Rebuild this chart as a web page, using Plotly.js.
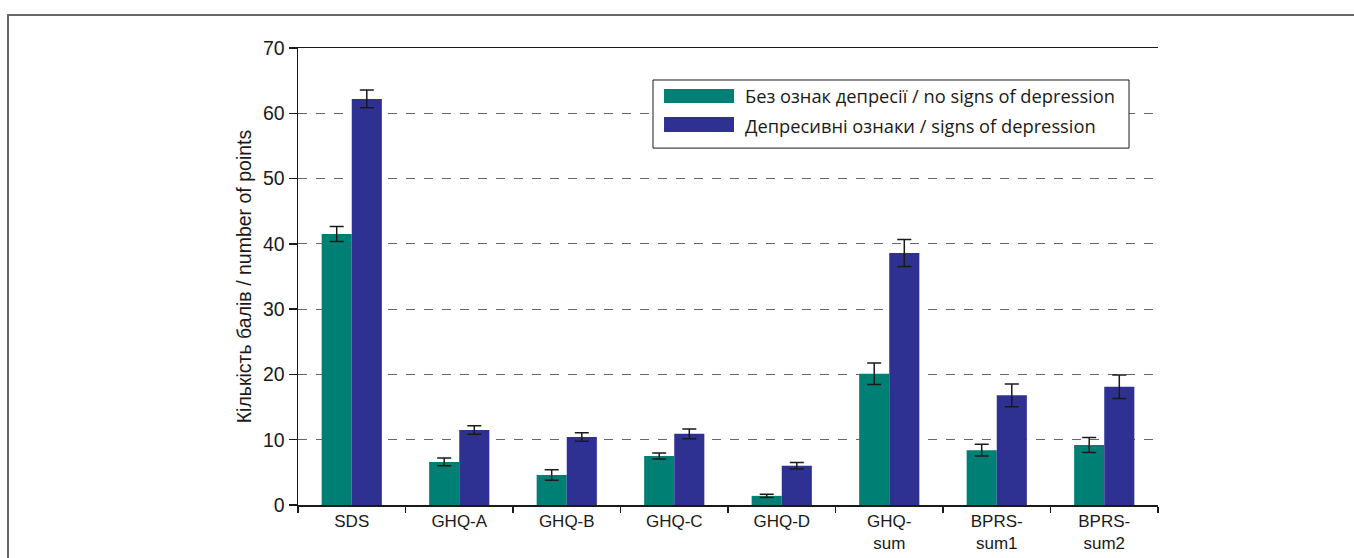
<!DOCTYPE html>
<html>
<head>
<meta charset="utf-8">
<script src="https://cdn.plot.ly/plotly-3.0.1.min.js"></script>
<style>
  html, body { margin: 0; padding: 0; background: #fff; }
  #frame { position: absolute; left: 7px; top: 14px; width: 1400px; height: 600px;
           border-top: 2px solid #666; border-left: 2px solid #666; box-sizing: border-box; }
  #chart { position: absolute; left: 0; top: 0; width: 1354px; height: 558px; }
</style>
</head>
<body>
<div id="frame"></div>
<div id="chart"></div>
<script>
const categories = ["SDS", "GHQ-A", "GHQ-B", "GHQ-C", "GHQ-D", "GHQ-<br>sum", "BPRS-<br>sum1", "BPRS-<br>sum2"];
const seriesNames = ["Без ознак депресії / no signs of depression", "Депресивні ознаки / signs of depression"];
const noDepression = [41.5, 6.6, 4.6, 7.5, 1.4, 20.1, 8.4, 9.2];
const noDepressionErr = [1.15, 0.6, 0.8, 0.45, 0.25, 1.65, 0.9, 1.15];
const depression = [62.2, 11.5, 10.4, 10.9, 6.0, 38.6, 16.8, 18.1];
const depressionErr = [1.35, 0.65, 0.65, 0.75, 0.5, 2.05, 1.75, 1.8];
const colors = ["#008075", "#2E3192"];

const errStyle = (arr) => ({type: "data", array: arr, visible: true, color: "#1a1a1a", thickness: 1.5, width: 7});

const traces = [
  {type: "bar", name: seriesNames[0], x: categories, y: noDepression, marker: {color: colors[0]}, error_y: errStyle(noDepressionErr), showlegend: false},
  {type: "bar", name: seriesNames[1], x: categories, y: depression, marker: {color: colors[1]}, error_y: errStyle(depressionErr), showlegend: false}
];

const fam = "Liberation Sans, Arial, sans-serif";

const layout = {
  width: 1354, height: 558,
  margin: {l: 298, r: 196, t: 48, b: 53},
  paper_bgcolor: "rgba(0,0,0,0)", plot_bgcolor: "rgba(0,0,0,0)",
  barmode: "group", bargap: 0.44, bargroupgap: 0,
  xaxis: {
    type: "category", showline: true, linecolor: "#1a1a1a", linewidth: 1.5, mirror: true,
    ticks: "outside", tickson: "boundaries", ticklen: 6, tickcolor: "#1a1a1a", tickwidth: 1.5,
    tickfont: {family: fam, size: 17, color: "#1a1a1a"}, showgrid: false, zeroline: false
  },
  yaxis: {
    range: [0, 70], dtick: 10, showline: true, linecolor: "#1a1a1a", linewidth: 1.5,
    ticks: "outside", ticklen: 8, tickcolor: "#1a1a1a", tickwidth: 1.5,
    tickfont: {family: fam, size: 19.5, color: "#1a1a1a"}, showgrid: true, gridcolor: "#666", gridwidth: 1, griddash: "dash",
    zeroline: false,
    title: {text: "Кількість балів / number of points", font: {family: fam, size: 19.5, color: "#1a1a1a"}, standoff: 6}
  },
  shapes: [
    {type: "rect", xref: "paper", yref: "paper", x0: 0.4128, x1: 0.9663, y0: 0.781, y1: 0.930,
     line: {color: "#1a1a1a", width: 1}, fillcolor: "#fff", layer: "above"},
    {type: "rect", xref: "paper", yref: "paper", x0: 0.4256, x1: 0.5070, y0: 0.8796, y1: 0.9103,
     line: {width: 0}, fillcolor: colors[0], layer: "above"},
    {type: "rect", xref: "paper", yref: "paper", x0: 0.4256, x1: 0.5070, y0: 0.816, y1: 0.849,
     line: {width: 0}, fillcolor: colors[1], layer: "above"}
  ],
  annotations: [
    {xref: "paper", yref: "paper", x: 0.5174, y: 0.895, xanchor: "left", yanchor: "middle", showarrow: false,
     text: seriesNames[0], font: {family: "Open Sans, sans-serif", size: 18.3, color: "#1a1a1a"}},
    {xref: "paper", yref: "paper", x: 0.5174, y: 0.8315, xanchor: "left", yanchor: "middle", showarrow: false,
     text: seriesNames[1], font: {family: "Open Sans, sans-serif", size: 18.3, color: "#1a1a1a"}}
  ]
};

Plotly.newPlot("chart", traces, layout, {staticPlot: true, displayModeBar: false});
</script>
</body>
</html>
